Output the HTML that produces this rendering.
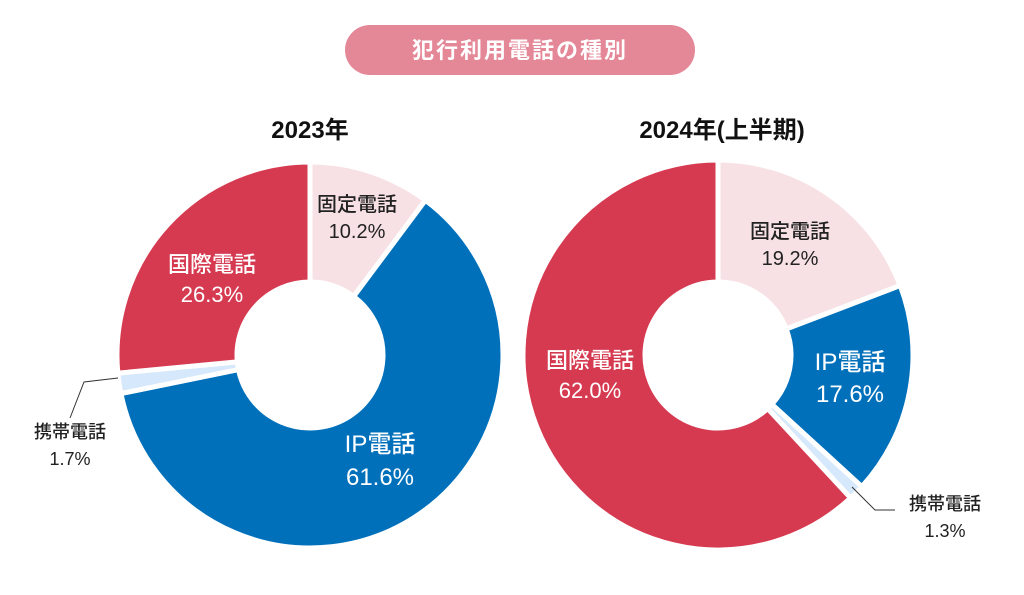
<!DOCTYPE html>
<html><head><meta charset="utf-8"><style>
body{margin:0;background:#fff;width:1024px;height:590px;overflow:hidden;font-family:"Liberation Sans","Noto Sans CJK JP",sans-serif}
</style></head><body>
<svg id="s" width="1024" height="590" xmlns="http://www.w3.org/2000/svg" font-family="Liberation Sans, Noto Sans CJK JP, sans-serif">
<rect x="345" y="25" width="350" height="50" rx="25" fill="#e48797"/>
<text x="520" y="58" text-anchor="middle" font-size="22" fill="#fff" font-weight="bold" letter-spacing="2">犯行利用電話の種別</text>
<text x="310" y="138" text-anchor="middle" font-size="24" font-weight="bold" fill="#111">2023年</text>
<text x="722" y="138" text-anchor="middle" font-size="24" font-weight="bold" fill="#111">2024年(上半期)</text>
<g id="g"></g>
<g font-size="20" text-anchor="middle" font-weight="500">
<text x="357" y="211" fill="#222">固定電話</text><text x="357" y="238" fill="#222">10.2%</text>
<text x="212" y="272" fill="#fff" font-size="22">国際電話</text><text x="212" y="302" fill="#fff" font-size="22">26.3%</text>
<text x="380" y="452" fill="#fff" font-size="24">IP電話</text><text x="380" y="485" fill="#fff" font-size="24">61.6%</text>
<text x="70" y="438" fill="#222" font-size="18">携帯電話</text><text x="70" y="465" fill="#222" font-size="18">1.7%</text>
<text x="790" y="238" fill="#222">固定電話</text><text x="790" y="265" fill="#222">19.2%</text>
<text x="850" y="370" fill="#fff" font-size="24">IP電話</text><text x="850" y="402" fill="#fff" font-size="24">17.6%</text>
<text x="590" y="368" fill="#fff" font-size="22">国際電話</text><text x="590" y="398" fill="#fff" font-size="22">62.0%</text>
<text x="945" y="510" fill="#222" font-size="18">携帯電話</text><text x="945" y="537" fill="#222" font-size="18">1.3%</text>
</g>
<polyline points="118,378 84,382 70,418" fill="none" stroke="#333" stroke-width="1"/>
<polyline points="852,487 875,510 895,510" fill="none" stroke="#333" stroke-width="1"/>
</svg>
<script>
function arc(cx,cy,R,r,a0,a1){
 const p=(rad,a)=>[cx+rad*Math.sin(a),cy-rad*Math.cos(a)];
 const l=(a1-a0)>Math.PI?1:0;
 const [x0,y0]=p(R,a0),[x1,y1]=p(R,a1),[x2,y2]=p(r,a1),[x3,y3]=p(r,a0);
 return `M${x0},${y0}A${R},${R} 0 ${l} 1 ${x1},${y1}L${x2},${y2}A${r},${r} 0 ${l} 0 ${x3},${y3}Z`;
}
const C=["#f7e1e4","#0070bb","#d6e8fb","#d63a50"];
const g=document.getElementById('g');let h='';
[[310,355,193,[10.2,61.6,1.7,26.5]],[718,355,195,[19.2,17.6,1.3,61.9]]].forEach(([cx,cy,R,v])=>{
 let a=0;v.forEach((x,i)=>{const b=a+x/100*2*Math.PI;
 h+=`<path d="${arc(cx,cy,R,73,a,b)}" fill="${C[i]}" stroke="#fff" stroke-width="5"/>`;a=b;});
});
g.innerHTML=h;
</script>
</body></html>
